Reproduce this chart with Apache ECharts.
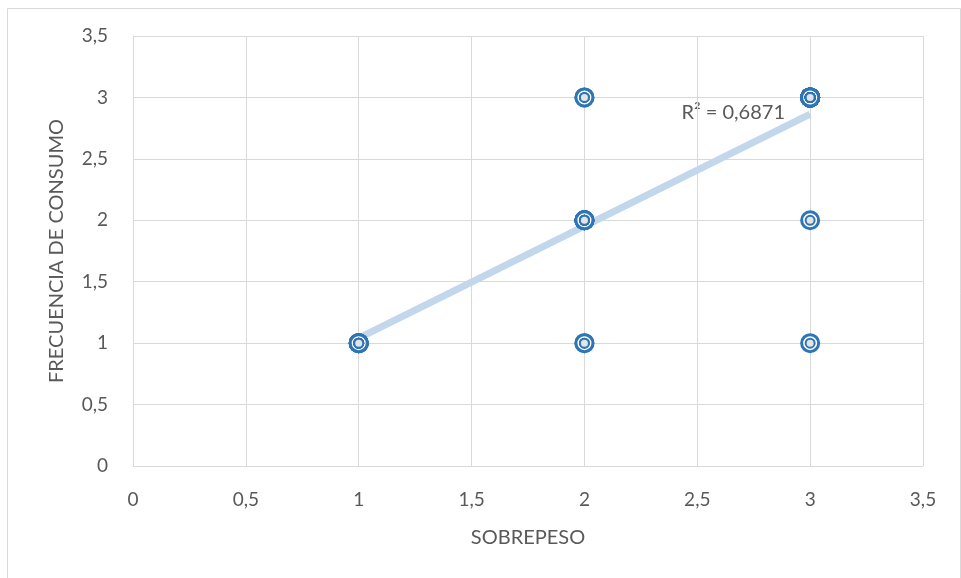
<!DOCTYPE html>
<html>
<head>
<meta charset="utf-8">
<script src="https://cdn.jsdelivr.net/npm/echarts@6/dist/echarts.min.js"></script>
<style>
html,body{margin:0;padding:0;background:#fff;}
#c{width:961px;height:578px;}
</style>
</head>
<body>
<div id="c"></div>
<script>
// Observations (x = SOBREPESO, y = FRECUENCIA DE CONSUMO); repeated points overlap
const xValues = [1,1,1,1,1,1,1, 2,2,2,2,2,2,2,2, 2,2, 2,2, 3,3,3,3,3,3,3,3,3,3,3,3,3,3,3,3,3,3, 3, 3];
const yValues = [1,1,1,1,1,1,1, 2,2,2,2,2,2,2,2, 1,1, 3,3, 3,3,3,3,3,3,3,3,3,3,3,3,3,3,3,3,3,3, 1, 2];
const xTicks = [0,0.5,1,1.5,2,2.5,3,3.5];
const yTicks = [0,0.5,1,1.5,2,2.5,3,3.5];
const xTitle = 'SOBREPESO';
const yTitle = 'FRECUENCIA DE CONSUMO';
const r2Label = 'R² = 0,6871';

const pts = xValues.map((x,i)=>[x,yValues[i]]);
// linear regression trendline
const n = xValues.length;
const mx = xValues.reduce((a,b)=>a+b,0)/n;
const my = yValues.reduce((a,b)=>a+b,0)/n;
let sxy=0, sxx=0;
for(let i=0;i<n;i++){sxy+=(xValues[i]-mx)*(yValues[i]-my);sxx+=(xValues[i]-mx)**2;}
const slope = sxy/sxx, icpt = my - slope*mx;
const xmin = Math.min(...xValues), xmax = Math.max(...xValues);
const trend = [[xmin, icpt+slope*xmin],[xmax, icpt+slope*xmax]];

const fmt = v => String(v).replace('.', ',');
const font = 'Lato, "Open Sans", sans-serif';
const chart = echarts.init(document.getElementById('c'), null, {renderer:'canvas'});
chart.setOption({
  animation:false,
  backgroundColor:'#fff',
  grid:{left:133,right:38,top:36,bottom:112},
  xAxis:{type:'value',min:xTicks[0],max:xTicks[xTicks.length-1],interval:0.5,
    name:xTitle,nameLocation:'middle',nameGap:62,
    nameTextStyle:{color:'#595959',fontSize:20,fontFamily:font},
    axisLine:{show:true,lineStyle:{color:'#d9d9d9'}},axisTick:{show:false},
    axisLabel:{color:'#595959',fontSize:19,fontFamily:font,margin:24,formatter:fmt},
    splitLine:{show:true,lineStyle:{color:'#d9d9d9',width:1}}},
  yAxis:{type:'value',min:yTicks[0],max:yTicks[yTicks.length-1],interval:0.5,
    name:yTitle,nameLocation:'middle',nameGap:66,nameRotate:90,
    nameTextStyle:{color:'#595959',fontSize:20,fontFamily:font},
    axisLine:{show:true,lineStyle:{color:'#d9d9d9'}},axisTick:{show:false},
    axisLabel:{color:'#595959',fontSize:19,fontFamily:font,margin:25,formatter:fmt},
    splitLine:{show:true,lineStyle:{color:'#d9d9d9',width:1}}},
  series:[
    {type:'line',data:trend,symbol:'none',z:2,silent:true,
      lineStyle:{color:'#c2d6ec',width:7}},
    {type:'scatter',data:pts,symbol:'circle',symbolSize:17,z:3,
      itemStyle:{color:'#ffffff',borderColor:'#2e75b6',borderWidth:3,opacity:1}},
    {type:'scatter',data:pts,symbol:'circle',symbolSize:9,z:4,
      itemStyle:{color:'#e4e4e4',borderColor:'#2e75b6',borderWidth:2,opacity:1}}
  ],
  graphic:[
    {type:'rect',left:5,top:6,shape:{width:953,height:580},style:{fill:'none',stroke:'#d9d9d9',lineWidth:1},z:-10},
    {type:'text',right:961-785,top:103,style:{text:r2Label,fill:'#595959',font:'20px '+font,textAlign:'right'}}
  ]
});
</script>
</body>
</html>
